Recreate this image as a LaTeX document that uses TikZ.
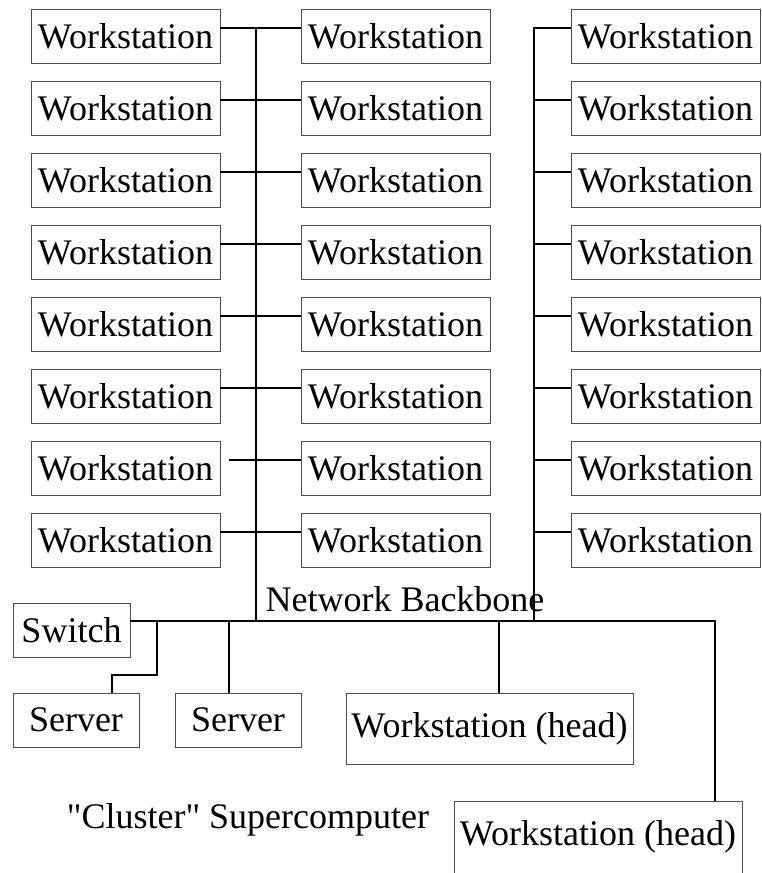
\documentclass[tikz,border=0pt]{standalone}
\usepackage{fontspec}
\setmainfont{Liberation Serif}[Ligatures=TeXOff]

\begin{document}
\begin{tikzpicture}[x=1pt, y=-1pt,
    box/.style={draw=black!70, line width=0.8pt, inner sep=0pt, minimum height=54pt, font=\fontsize{36}{43}\selectfont},
    ws/.style={box, minimum width=189pt},
    head/.style={box, minimum width=287pt, minimum height=71pt},
    link/.style={line width=1.3pt}]
    \useasboundingbox (0,0) rectangle (762,873);

    % Backbone corner points
    \coordinate (bbl) at (256,621);
    \coordinate (bbr) at (534,621);
    \coordinate (bbend) at (715,621);

    % Draw the three columns of workstations
    \foreach \i in {1,...,8} {
        \node[ws] (l\i) at (125.5, {36+72*(\i-1)}) {Workstation};
        \node[ws] (m\i) at (395.5, {36+72*(\i-1)}) {Workstation};
        \node[ws] (r\i) at (665.5, {36+72*(\i-1)}) {Workstation};
    }

    % Left pair of columns hangs on the first riser
    \foreach \i in {1,...,6,8}
        \draw[link] ([yshift=8pt]l\i.east) -- ([yshift=8pt]m\i.west);
    \draw[link] ([xshift=9pt,yshift=8pt]l7.east) -- ([yshift=8pt]m7.west);
    \draw[link] ([yshift=8pt]l1.east -| bbl) -- (bbl);

    % Right column hangs on the second riser
    \draw[link] ([yshift=8pt]r1.west) -| (bbr);
    \foreach \i in {2,...,8}
        \draw[link] ([yshift=8pt]r\i.west) -- ([yshift=8pt]r\i.west -| bbr);

    % Switch, servers and head nodes
    \node[box, minimum width=117pt] (sw) at (71.5,630) {Switch};
    \node[box, minimum width=126pt] (s1) at (76,720) {Server};
    \node[box, minimum width=126pt] (s2) at (238,720) {Server};
    \node[head] (h1) at (489.5,728.5) {Workstation (head)};
    \node[head, minimum width=288pt, minimum height=72pt] (h2) at (598,837) {Workstation (head)};

    % Network backbone
    \draw[link] ([yshift=9pt]sw.east) -- (bbend) -- (bbend |- h2.north);
    \draw[link] (157,621) -- ++(0,54) -| ([xshift=36pt]s1.north);
    \draw[link] ([xshift=-9pt]s2.north) -- ([xshift=-9pt]s2.north |- bbl);
    \draw[link] ([xshift=9.5pt]h1.north) -- ([xshift=9.5pt]h1.north |- bbl);

    % Labels
    \node[font=\fontsize{36}{43}\selectfont, anchor=base, inner sep=0pt] (bblabel) at (405,611) {Network Backbone};
    \node[font=\fontsize{36}{43}\selectfont, anchor=base, inner sep=0pt] (cluster) at (248,828) {"Cluster" Supercomputer};
\end{tikzpicture}
\end{document}
